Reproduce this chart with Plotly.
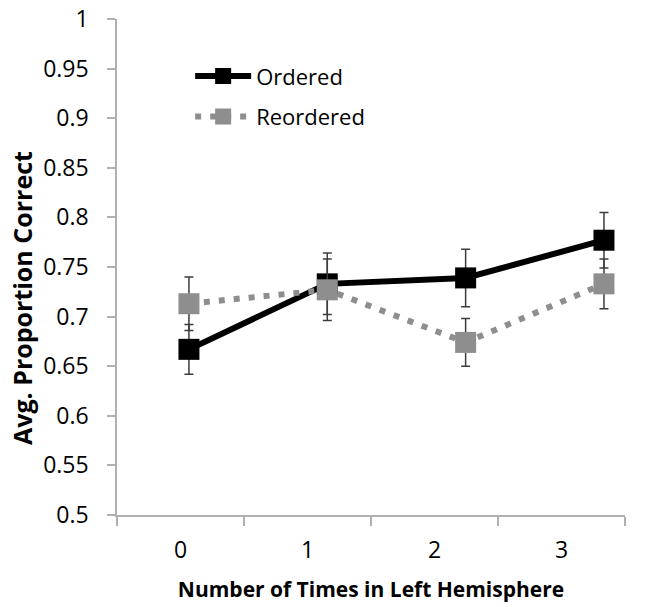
import plotly.graph_objects as go

# Categories and series values
categories = ["0", "1", "2", "3"]
x_pos = [0, 1, 2, 3]
ordered = [0.667, 0.733, 0.739, 0.777]
ordered_err = [0.025, 0.031, 0.029, 0.028]
reordered = [0.713, 0.727, 0.674, 0.733]
reordered_err = [0.027, 0.031, 0.024, 0.025]
y_ticks = [0.5, 0.55, 0.6, 0.65, 0.7, 0.75, 0.8, 0.85, 0.9, 0.95, 1.0]
y_tick_text = ["0.5", "0.55", "0.6", "0.65", "0.7", "0.75", "0.8", "0.85", "0.9", "0.95", "1"]

FONT = "Open Sans"
AXIS_GREY = "#b0b0b0"
ERR_COLOR = "#3c3c3c"
GREY = "#8e8e8e"

fig = go.Figure()

# invisible trace so the category axis is populated
fig.add_trace(go.Scatter(x=categories, y=[None] * 4, xaxis="x", yaxis="y",
                         showlegend=False, hoverinfo="skip"))

fig.add_trace(go.Scatter(
    x=x_pos, y=ordered, name="Ordered", xaxis="x2", yaxis="y",
    legendgroup="a",
    mode="lines+markers",
    line=dict(color="black", width=6),
    marker=dict(symbol="square", size=21, color="black"),
    error_y=dict(type="data", array=ordered_err, color=ERR_COLOR,
                 thickness=1.5, width=4.5),
))
fig.add_trace(go.Scatter(
    x=x_pos, y=reordered, name="Reordered", xaxis="x2", yaxis="y",
    legendgroup="b",
    mode="lines+markers",
    line=dict(color=GREY, width=6, dash="6px,9px"),
    marker=dict(symbol="square", size=21, color=GREY),
    error_y=dict(type="data", array=reordered_err, color=ERR_COLOR,
                 thickness=1.5, width=4.5),
))

fig.update_layout(
    width=669, height=607,
    margin=dict(l=117, r=44, t=19, b=92),
    paper_bgcolor="white", plot_bgcolor="white",
    font=dict(family=FONT, color="black", size=20),
    showlegend=True,
    legend=dict(x=0.144, y=0.927, xanchor="left", yanchor="top",
                bgcolor="rgba(0,0,0,0)", font=dict(size=22, family=FONT),
                tracegroupgap=9, itemwidth=56),
    xaxis=dict(
        type="category", range=[-0.5, 3.5], automargin=False,
        tickson="boundaries", ticks="outside", ticklen=9, tickwidth=1.5,
        tickcolor=AXIS_GREY, showline=True, linecolor=AXIS_GREY, linewidth=1.5,
        showgrid=False, zeroline=False, ticklabelstandoff=14,
        tickfont=dict(size=23, family=FONT),
        title=dict(text="<b>Number of Times in Left Hemisphere</b>",
                   font=dict(size=21, family=FONT), standoff=18),
    ),
    xaxis2=dict(
        overlaying="x", range=[-0.52, 3.152], visible=False,
        showgrid=False, zeroline=False,
    ),
    yaxis=dict(
        range=[0.5, 1.0], tickvals=y_ticks, ticktext=y_tick_text,
        automargin=False,
        ticks="outside", ticklen=8, tickwidth=1.5, tickcolor=AXIS_GREY,
        showline=True, linecolor=AXIS_GREY, linewidth=1.5,
        showgrid=False, zeroline=False, ticklabelstandoff=14,
        tickfont=dict(size=23, family=FONT),
    ),
    annotations=[dict(
        text="<b>Avg. Proportion Correct</b>", textangle=-90,
        xref="paper", yref="paper", x=-0.187, y=0.4375,
        xanchor="center", yanchor="middle", showarrow=False,
        font=dict(size=25, family=FONT),
    )],
)

fig.write_html("out.html")
